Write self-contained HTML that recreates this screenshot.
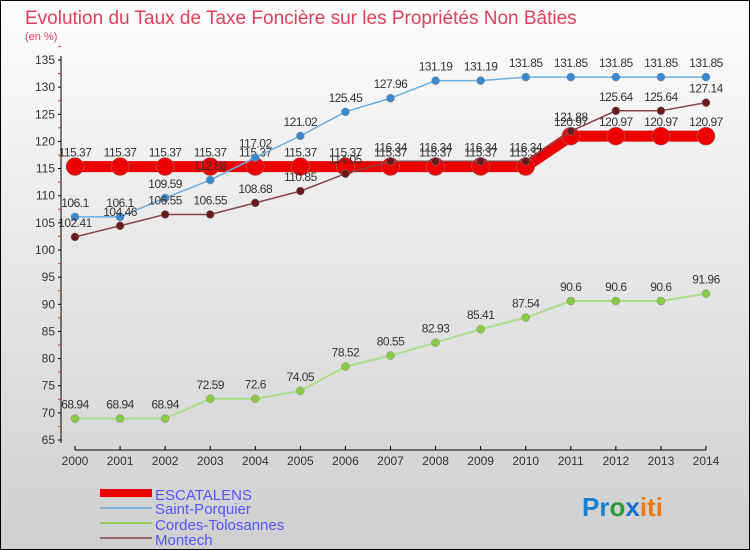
<!DOCTYPE html>
<html><head><meta charset="utf-8"><style>
body{margin:0}
#c{width:750px;height:550px;position:relative;overflow:hidden;font-family:"Liberation Sans",sans-serif}
</style></head><body>
<div id="c">
<svg id="s" width="750" height="550" xmlns="http://www.w3.org/2000/svg">
<defs><linearGradient id="bg" x1="0" y1="0" x2="0" y2="1"><stop offset="0" stop-color="#fdfdfd"/><stop offset="1" stop-color="#cfcfcf"/></linearGradient></defs>
<rect x="0.5" y="0.5" width="749" height="549" fill="url(#bg)" stroke="#000"/>
<text x="25" y="24" font-size="19" fill="#e0405a">Evolution du Taux de Taxe Foncière sur les Propriétés Non Bâties</text>
<text x="25" y="40" font-size="11" fill="#e0405a">(en %)</text>
<g id="axes"></g><g id="series"></g>
<g>
<rect x="100" y="489" width="52" height="8" fill="#e00"/>
<text x="155" y="500" font-size="15" fill="#5555ff">ESCATALENS</text>
<line x1="100" y1="508" x2="152" y2="508" stroke="#7fb0d8" stroke-width="2"/>
<text x="155" y="514" font-size="15" fill="#5555ff">Saint-Porquier</text>
<line x1="100" y1="523" x2="152" y2="523" stroke="#99cc66" stroke-width="2"/>
<text x="155" y="530" font-size="15" fill="#5555ff">Cordes-Tolosannes</text>
<line x1="100" y1="538" x2="152" y2="538" stroke="#996666" stroke-width="2"/>
<text x="155" y="545" font-size="15" fill="#5555ff">Montech</text>
</g>
<text x="582" y="516" font-size="26" font-weight="bold"><tspan fill="#1a7fd0">Pr</tspan><tspan fill="#2a9a3a">o</tspan><tspan fill="#1a6fd0">x</tspan><tspan fill="#f07a10">iti</tspan></text>
</svg></div>
<script>
const years=[2000,2001,2002,2003,2004,2005,2006,2007,2008,2009,2010,2011,2012,2013,2014];
const yTicks=[65,70,75,80,85,90,95,100,105,110,115,120,125,130,135];
const escatalens=[115.37,115.37,115.37,115.37,115.37,115.37,115.37,115.37,115.37,115.37,115.37,120.97,120.97,120.97,120.97];
const saintPorquier=[106.1,106.1,109.59,112.88,117.02,121.02,125.45,127.96,131.19,131.19,131.85,131.85,131.85,131.85,131.85];
const cordes=[68.94,68.94,68.94,72.59,72.6,74.05,78.52,80.55,82.93,85.41,87.54,90.6,90.6,90.6,91.96];
const montech=[102.41,104.46,106.55,106.55,108.68,110.85,114.05,116.34,116.34,116.34,116.34,121.88,125.64,125.64,127.14];
const NS="http://www.w3.org/2000/svg";
const x=i=>75+i*(631/14);
const y=v=>60+(135-v)*(380/70);
function mk(t,a,p){const e=document.createElementNS(NS,t);for(const k in a)e.setAttribute(k,a[k]);p.appendChild(e);return e;}
const ax=document.getElementById('axes'),sg=document.getElementById('series');
mk('line',{x1:61,y1:56,x2:61,y2:443,stroke:'#000'},ax);
mk('line',{x1:75,y1:450,x2:706,y2:450,stroke:'#000'},ax);
yTicks.forEach(v=>{
 mk('line',{x1:58,y1:y(v),x2:61,y2:y(v),stroke:'#000'},ax);
 mk('line',{x1:58,y1:y(v+2.5),x2:61,y2:y(v+2.5),stroke:'#e03030'},ax);
 const t=mk('text',{x:55,y:y(v)+4,'font-size':12,'text-anchor':'end',fill:'#333'},ax);
 
 
 t.textContent=v;});
years.forEach((yr,i)=>{
 mk('line',{x1:x(i),y1:446,x2:x(i),y2:450,stroke:'#000'},ax);
 const t=mk('text',{x:x(i),y:465,'font-size':12,'text-anchor':'middle',fill:'#333'},ax);
 
 
 t.textContent=yr;});
function series(d,name,col,w,r,mcol){
 const g=mk('g',{},sg);
 
 
 mk('polyline',{points:d.map((v,i)=>x(i)+','+y(v)).join(' '),fill:'none',stroke:col,'stroke-width':w},g);
 d.forEach((v,i)=>{
  const c=mk('circle',{cx:x(i),cy:y(v),r:r,fill:mcol,stroke:'#888','stroke-width':0.5},g);
  
  
  const t=mk('text',{x:x(i),y:y(v)-10,'font-size':12,'text-anchor':'middle',fill:'#333','letter-spacing':'-0.5'},g);
  
  
  t.textContent=v;});
}
series(escatalens,'escatalens','#ee0000',11,9,'#ee0000');
series(saintPorquier,'saint-porquier','#6aaee0',1.5,4,'#3a8ad0');
series(cordes,'cordes-tolosannes','#aade88',2,4,'#88cc44');
series(montech,'montech','#884444',1.5,4,'#6a1a1a');
</script>
</body></html>
